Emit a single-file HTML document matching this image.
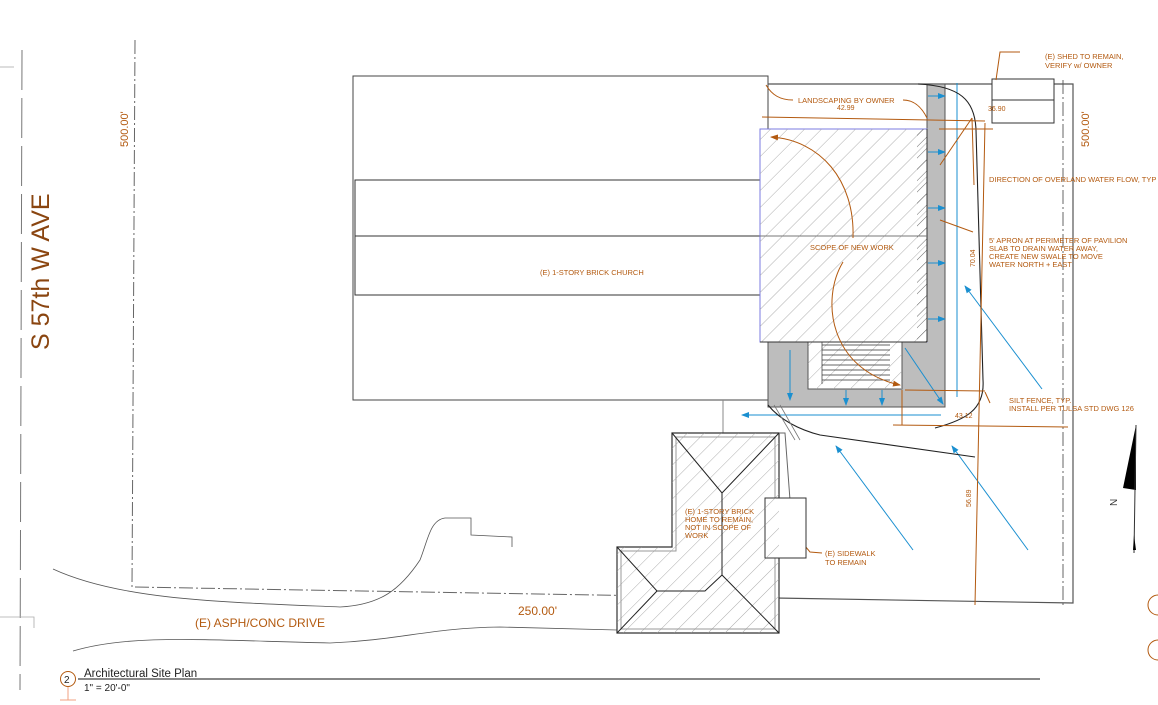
<!DOCTYPE html>
<html><head><meta charset="utf-8"><style>
html,body{margin:0;padding:0;background:#fff;}
svg{display:block;}
text{font-family:"Liberation Sans",sans-serif;}
</style></head><body>
<svg width="1158" height="705" viewBox="0 0 1158 705" xmlns="http://www.w3.org/2000/svg">
<defs>
<pattern id="h" width="12" height="12" patternUnits="userSpaceOnUse" patternTransform="rotate(45)">
<line x1="0" y1="0" x2="0" y2="12" stroke="#999" stroke-width="0.8"/>
</pattern>
<pattern id="h2" width="8" height="8" patternUnits="userSpaceOnUse" patternTransform="rotate(45)">
<line x1="0" y1="0" x2="0" y2="8" stroke="#444" stroke-width="0.8"/>
</pattern>
<marker id="ab" markerWidth="8" markerHeight="6" refX="7" refY="3" orient="auto"><path d="M0,0 L8,3 L0,6z" fill="#1a8fd0"/></marker>
<marker id="ao" markerWidth="8" markerHeight="6" refX="7" refY="3" orient="auto"><path d="M0,0 L8,3 L0,6z" fill="#b35a10"/></marker>
</defs>

<line x1="22" y1="50" x2="20" y2="690" stroke="#777" stroke-width="1" stroke-dasharray="40,8"/>
<line x1="0" y1="67" x2="14" y2="67" stroke="#bbb"/>
<text transform="translate(49,350) rotate(-90)" font-size="25" fill="#8a4510">S 57th W AVE</text>

<path d="M135,40 L132,587 L770,598" fill="none" stroke="#666" stroke-dasharray="14,3,2,3"/>
<path d="M1063,80 L1063,605" fill="none" stroke="#666" stroke-dasharray="14,3,2,3"/>
<text transform="translate(128,147) rotate(-90)" font-size="11" fill="#b35a10">500.00'</text>
<text transform="translate(1089,147) rotate(-90)" font-size="11" fill="#b35a10">500.00'</text>
<text x="518" y="615" font-size="12" fill="#b35a10">250.00'</text>

<path d="M53,569 C120,600 220,602 340,607 C380,605 400,590 420,560 C428,540 430,520 445,518 L471,518 L471,535 L512,537 L512,547" fill="none" stroke="#555" stroke-width="0.8"/>
<path d="M73,651 C130,634 200,640 330,643 C400,640 430,628 500,627 L617,630" fill="none" stroke="#555" stroke-width="0.8"/>
<text x="195" y="627" font-size="12" fill="#b35a10">(E) ASPH/CONC DRIVE</text>
<path d="M0,617 L34,617 L34,628" fill="none" stroke="#aaa" stroke-width="0.8"/>

<rect x="353" y="76" width="415" height="324" fill="#fff" stroke="#444" stroke-width="1"/>
<rect x="355" y="180" width="410" height="115" fill="none" stroke="#333"/>
<line x1="355" y1="236" x2="765" y2="236" stroke="#333"/>
<text x="540" y="275" font-size="7.5" fill="#b35a10">(E) 1-STORY BRICK CHURCH</text>
<line x1="723" y1="400" x2="723" y2="433" stroke="#888"/>

<path d="M768,84 L1073,84 L1073,603 L775,598" fill="none" stroke="#555" stroke-width="1.2"/>

<path d="M927,84 L945,84 L945,407 L768,407 L768,342 L927,342 Z" fill="#bdbdbd" stroke="#555"/>
<rect x="808" y="342" width="94" height="47" fill="#fff" stroke="#555"/>
<rect x="808" y="342" width="94" height="47" fill="url(#h)"/>
<g stroke="#333" stroke-width="0.7">
<line x1="822" y1="345" x2="890" y2="345"/><line x1="822" y1="350" x2="890" y2="350"/><line x1="822" y1="355" x2="890" y2="355"/><line x1="822" y1="360" x2="890" y2="360"/><line x1="822" y1="365" x2="890" y2="365"/><line x1="822" y1="370" x2="890" y2="370"/><line x1="822" y1="375" x2="890" y2="375"/><line x1="822" y1="380" x2="890" y2="380"/>
<line x1="822" y1="342" x2="822" y2="384"/>
</g>
<rect x="760" y="129" width="167" height="213" fill="#fff" stroke="#7b7be0"/>
<rect x="760" y="129" width="167" height="213" fill="url(#h)"/>
<rect x="917" y="129" width="10" height="213" fill="url(#h2)"/>
<line x1="927" y1="129" x2="927" y2="342" stroke="#333"/>
<line x1="927" y1="342" x2="760" y2="342" stroke="#333"/>
<line x1="760" y1="236" x2="927" y2="236" stroke="#777"/>
<text x="810" y="250" font-size="7.5" fill="#b35a10">SCOPE OF NEW WORK</text>
<path d="M853,238 C855,180 820,140 771,137" fill="none" stroke="#b35a10" marker-end="url(#ao)"/>
<path d="M843,262 C820,300 830,370 900,385" fill="none" stroke="#b35a10" marker-end="url(#ao)"/>

<g stroke="#1a8fd0" stroke-width="1" fill="none">
<line x1="928" y1="96" x2="945" y2="96" marker-end="url(#ab)"/>
<line x1="928" y1="152" x2="945" y2="152" marker-end="url(#ab)"/>
<line x1="928" y1="208" x2="945" y2="208" marker-end="url(#ab)"/>
<line x1="928" y1="263" x2="945" y2="263" marker-end="url(#ab)"/>
<line x1="928" y1="319" x2="945" y2="319" marker-end="url(#ab)"/>
<line x1="790" y1="350" x2="790" y2="400" marker-end="url(#ab)"/>
<line x1="846" y1="390" x2="846" y2="405" marker-end="url(#ab)"/>
<line x1="882" y1="390" x2="882" y2="405" marker-end="url(#ab)"/>
<line x1="905" y1="348" x2="943" y2="404" marker-end="url(#ab)"/>
<line x1="957" y1="83" x2="957" y2="397"/>
<line x1="941" y1="415" x2="742" y2="415" marker-end="url(#ab)"/>
<line x1="1042" y1="389" x2="965" y2="286" marker-end="url(#ab)"/>
<line x1="913" y1="550" x2="836" y2="446" marker-end="url(#ab)"/>
<line x1="1028" y1="550" x2="952" y2="446" marker-end="url(#ab)"/>
</g>

<path d="M918,84 C960,86 975,100 976,130 L983,380 C985,410 965,420 935,428" fill="none" stroke="#222" stroke-width="1.1"/>
<path d="M768,405 C780,420 800,430 820,435 L975,457" fill="none" stroke="#222" stroke-width="1.1"/>
<path d="M774,405 L795,440 M780,405 L800,440" stroke="#777" stroke-width="0.8"/>

<!-- shed -->
<rect x="992" y="79" width="62" height="44" fill="#fff" stroke="#333"/>
<line x1="992" y1="100" x2="1054" y2="100" stroke="#333"/>

<g stroke="#b35a10" stroke-width="1" fill="none">
<line x1="762" y1="117" x2="985" y2="121"/>
<line x1="939" y1="129" x2="993" y2="129"/>
<line x1="985" y1="123" x2="975" y2="605"/>
<line x1="905" y1="390" x2="985" y2="391"/>
<line x1="902" y1="390" x2="902" y2="425"/>
<line x1="893" y1="425" x2="1068" y2="427"/>
<path d="M766,85 C772,95 780,100 793,100"/>
<path d="M903,100 C915,100 922,108 927,118"/>
<path d="M972,118 L974,185 M972,118 L940,165"/>
<path d="M973,232 L940,220"/>
<path d="M990,403 L985,392"/>
<path d="M1020,52 L1000,52 L996,80"/>
<path d="M822,553 L810,552 L800,540"/>
</g>
<text x="798" y="103" font-size="7.5" fill="#b35a10">LANDSCAPING BY OWNER</text>
<text x="837" y="110" font-size="7" fill="#b35a10">42.99</text>
<text x="988" y="111" font-size="7" fill="#b35a10">36.90</text>
<text transform="translate(975,267) rotate(-90)" font-size="7" fill="#b35a10">70.04</text>
<text transform="translate(971,507) rotate(-90)" font-size="7" fill="#b35a10">56.89</text>
<text x="955" y="418" font-size="7" fill="#b35a10">43.12</text>
<text x="1045" y="59" font-size="7.5" fill="#b35a10">(E) SHED TO REMAIN,</text>
<text x="1045" y="68" font-size="7.5" fill="#b35a10">VERIFY w/ OWNER</text>
<text x="989" y="182" font-size="7.5" fill="#b35a10">DIRECTION OF OVERLAND WATER FLOW, TYP</text>
<text x="989" y="243" font-size="7.5" fill="#b35a10">5' APRON AT PERIMETER OF PAVILION</text>
<text x="989" y="251" font-size="7.5" fill="#b35a10">SLAB TO DRAIN WATER AWAY,</text>
<text x="989" y="259" font-size="7.5" fill="#b35a10">CREATE NEW SWALE TO MOVE</text>
<text x="989" y="267" font-size="7.5" fill="#b35a10">WATER NORTH + EAST</text>
<text x="1009" y="403" font-size="7.5" fill="#b35a10">SILT FENCE, TYP.</text>
<text x="1009" y="411" font-size="7.5" fill="#b35a10">INSTALL PER TULSA STD DWG 126</text>

<path d="M672,433 L779,433 L779,633 L617,633 L617,547 L672,547 Z" fill="#fff" stroke="#333" stroke-width="1.2"/>
<path d="M672,433 L779,433 L779,633 L617,633 L617,547 L672,547 Z" fill="url(#h)"/>
<path d="M676,437 L775,437 L775,629 L621,629 L621,551 L676,551 Z" fill="none" stroke="#999"/>
<g stroke="#222" stroke-width="1" fill="none">
<path d="M672,433 L722,493 L779,433"/>
<path d="M722,493 L722,575 L779,633"/>
<path d="M722,575 L705,591 L657,591 L617,547"/>
<path d="M657,591 L617,633"/>
</g>
<text x="685" y="514" font-size="7.5" fill="#b35a10">(E) 1-STORY BRICK</text>
<text x="685" y="522" font-size="7.5" fill="#b35a10">HOME TO REMAIN,</text>
<text x="685" y="530" font-size="7.5" fill="#b35a10">NOT IN SCOPE OF</text>
<text x="685" y="538" font-size="7.5" fill="#b35a10">WORK</text>
<path d="M779,433 L785,433 L790,500" fill="none" stroke="#666"/>
<rect x="765" y="498" width="41" height="60" fill="#fff" stroke="#333"/>
<rect x="765" y="498" width="14" height="60" fill="url(#h)"/>
<text x="825" y="556" font-size="7.5" fill="#b35a10">(E) SIDEWALK</text>
<text x="825" y="565" font-size="7.5" fill="#b35a10">TO REMAIN</text>

<path d="M1136,425 L1136,490 L1123,488 Z" fill="#000"/>
<line x1="1136" y1="425" x2="1134" y2="553" stroke="#333"/>
<path d="M1134,535 L1133,550 L1136,550 Z" fill="#000"/>
<text transform="translate(1117,506) rotate(-90)" font-size="10" fill="#333">N</text>
<path d="M1158,595 A10,10 0 0 0 1158,615 M1158,640 A10,10 0 0 0 1158,660" fill="none" stroke="#b35a10"/>

<line x1="78" y1="679" x2="1040" y2="679" stroke="#111" stroke-width="1"/>
<circle cx="68" cy="679" r="7.5" fill="#fff" stroke="#b35a10"/>
<text x="64" y="683" font-size="10" fill="#222">2</text>
<line x1="68" y1="687" x2="68" y2="700" stroke="#f0a080"/>
<line x1="60" y1="700" x2="76" y2="700" stroke="#f0a080"/>
<text x="84" y="677" font-size="11.5" fill="#222">Architectural Site Plan</text>
<text x="84" y="691" font-size="10" fill="#222">1" = 20'-0"</text>
</svg>
</body></html>
